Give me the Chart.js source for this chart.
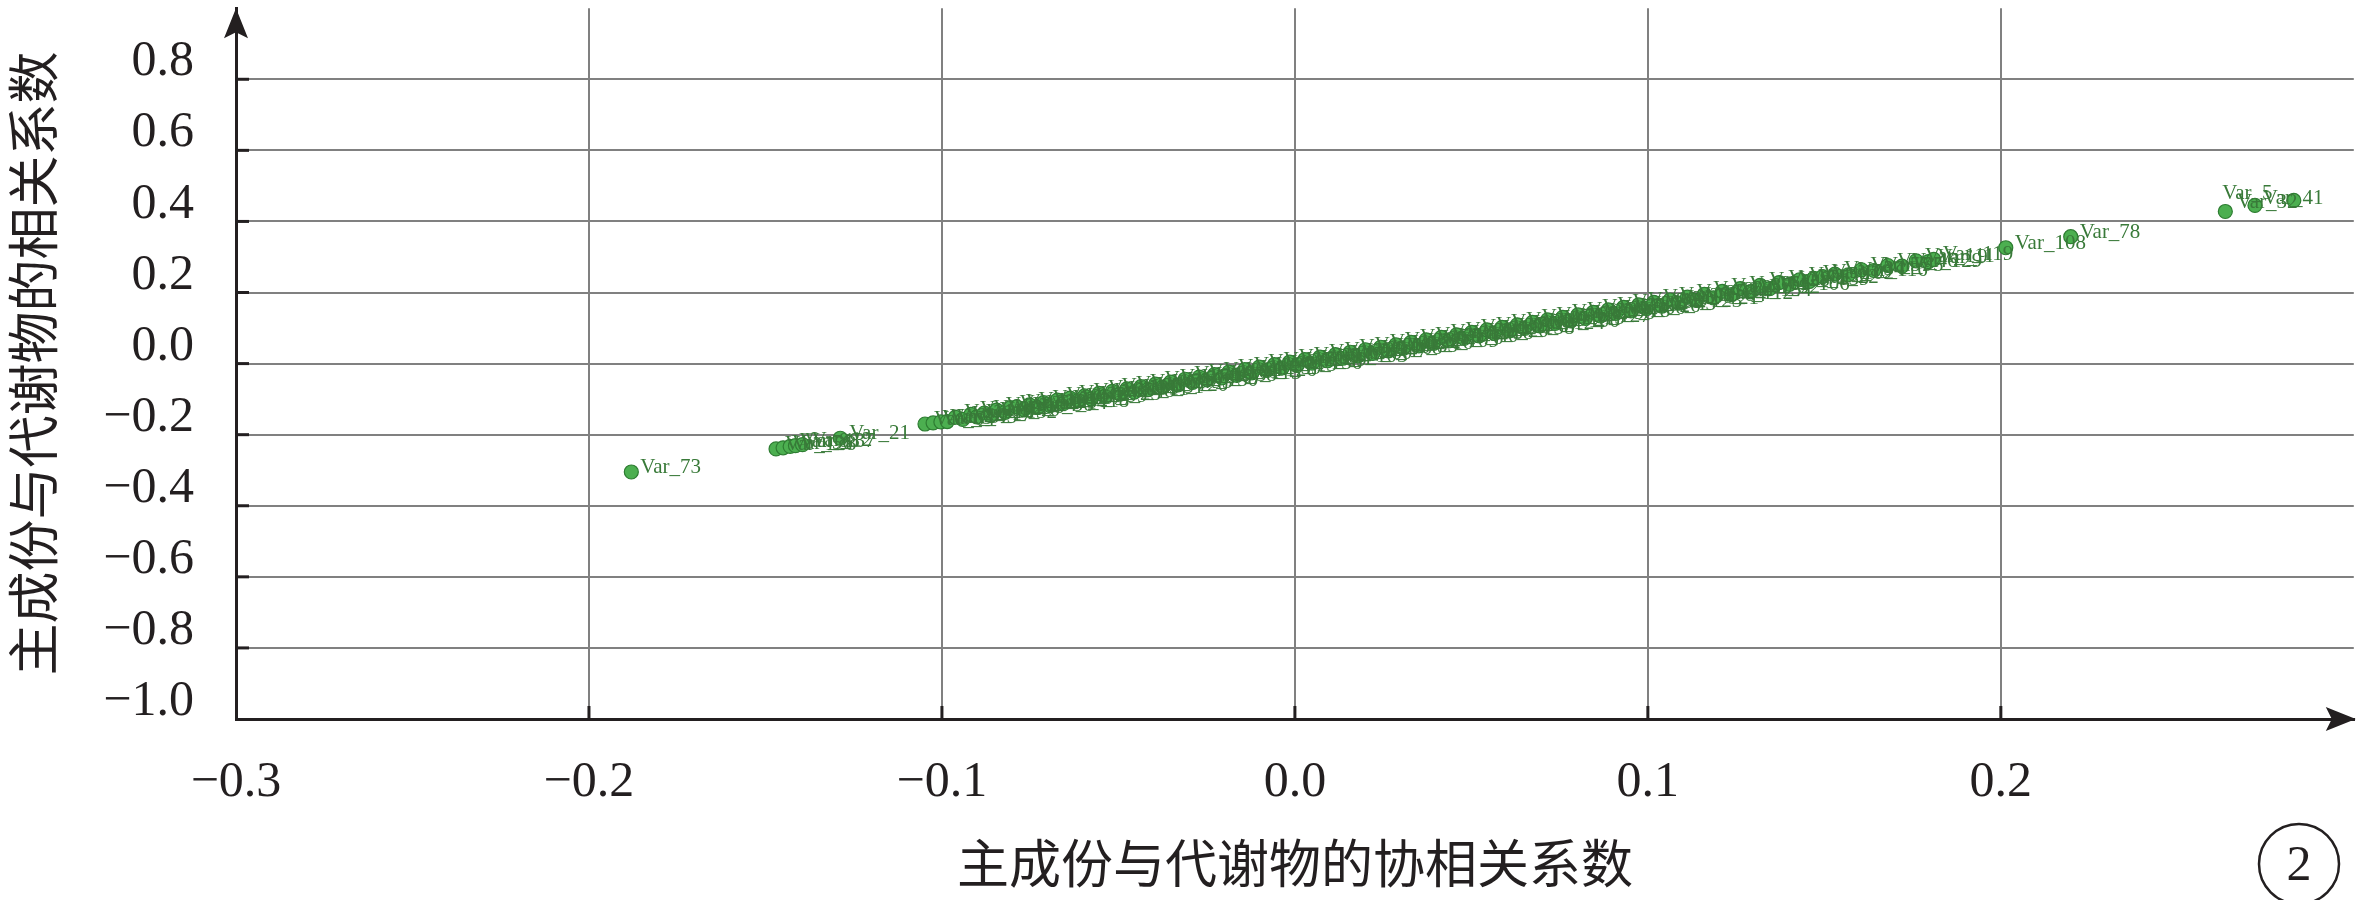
<!DOCTYPE html>
<html lang="zh">
<head>
<meta charset="utf-8">
<title>主成份与代谢物的协相关系数</title>
<script src="https://cdn.jsdelivr.net/npm/chart.js@4.4.1/dist/chart.umd.min.js"></script>
<style>
  html, body { margin: 0; padding: 0; background: #fff; }
  #wrap { position: relative; width: 2362px; height: 900px; }
</style>
</head>
<body>
<div id="wrap"><canvas id="chart"></canvas></div>
<script>
// Variable ids (labels are "Var_" + id)
const varIds = [
  73, 128, 56, 88, 137, 12, 21, 64, 3, 97,
  45, 110, 17, 83, 132, 29, 70, 104, 8, 51,
  125, 36, 91, 14, 60, 118, 42, 77, 2, 99,
  65, 23, 135, 48, 86, 11, 107, 31, 74, 120,
  6, 93, 54, 130, 19, 67, 101, 38, 81, 115,
  44, 126, 27, 59, 96, 13, 72, 136, 35, 89,
  117, 4, 62, 103, 25, 80, 140, 47, 10, 68,
  122, 33, 85, 16, 53, 109, 1, 76, 131, 40,
  94, 58, 113, 20, 71, 138, 30, 87, 49, 124,
  7, 100, 63, 15, 82, 127, 39, 98, 55, 18,
  114, 66, 133, 26, 90, 43, 105, 123, 69, 121,
  52, 84, 24, 112, 37, 134, 61, 92, 28, 106,
  75, 139, 50, 22, 102, 79, 34, 116, 57, 95,
  46, 129, 111, 9, 119, 108, 78, 5, 32, 41
];

// x: covariance between component and metabolite
const pcCov = [
  -0.188, -0.147, -0.145, -0.143, -0.1415, -0.1395, -0.1288, -0.1048, -0.1025, -0.1003,
  -0.0985, -0.0962, -0.0941, -0.0918, -0.0901, -0.0880, -0.0862, -0.0845, -0.0821, -0.0806,
  -0.0788, -0.0768, -0.0752, -0.0729, -0.0712, -0.0694, -0.0673, -0.0655, -0.0637, -0.0615,
  -0.0596, -0.0577, -0.0555, -0.0538, -0.0517, -0.0496, -0.0476, -0.0455, -0.0436, -0.0416,
  -0.0395, -0.0374, -0.0352, -0.0331, -0.0311, -0.0290, -0.0271, -0.0249, -0.0228, -0.0207,
  -0.0187, -0.0165, -0.0142, -0.0122, -0.0101, -0.0079, -0.0058, -0.0036, -0.0015, 0.0006,
  0.0028, 0.0049, 0.0071, 0.0092, 0.0115, 0.0135, 0.0157, 0.0179, 0.0200, 0.0221,
  0.0243, 0.0265, 0.0286, 0.0307, 0.0329, 0.0351, 0.0372, 0.0393, 0.0415, 0.0436,
  0.0458, 0.0479, 0.0501, 0.0522, 0.0544, 0.0565, 0.0587, 0.0608, 0.0630, 0.0651,
  0.0673, 0.0694, 0.0716, 0.0737, 0.0759, 0.0781, 0.0802, 0.0823, 0.0845, 0.0866,
  0.0888, 0.0909, 0.0931, 0.0952, 0.0974, 0.0996, 0.1017, 0.1040, 0.1063, 0.1088,
  0.1112, 0.1137, 0.1160, 0.1186, 0.1211, 0.1237, 0.1262, 0.1290, 0.1318, 0.1345,
  0.1372, 0.1401, 0.1430, 0.1457, 0.1470, 0.1495, 0.1530, 0.1568, 0.1605, 0.1640,
  0.1680, 0.1720, 0.1760, 0.1795, 0.1810, 0.2014, 0.2198, 0.2636, 0.2720, 0.2830
];

// y: correlation between component and metabolite
const pcCorr = [
  -0.305, -0.240, -0.237, -0.233, -0.231, -0.228, -0.210, -0.170, -0.167, -0.164,
  -0.163, -0.151, -0.157, -0.143, -0.150, -0.139, -0.146, -0.131, -0.137, -0.124,
  -0.122, -0.130, -0.116, -0.124, -0.110, -0.118, -0.103, -0.112, -0.097, -0.104,
  -0.091, -0.099, -0.084, -0.092, -0.078, -0.086, -0.071, -0.080, -0.065, -0.073,
  -0.058, -0.066, -0.052, -0.060, -0.044, -0.053, -0.038, -0.046, -0.031, -0.040,
  -0.024, -0.033, -0.017, -0.026, -0.010, -0.019, -0.003, -0.012, 0.004, -0.005,
  0.011, 0.001, 0.018, 0.008, 0.025, 0.015, 0.032, 0.022, 0.039, 0.029,
  0.046, 0.036, 0.053, 0.043, 0.060, 0.050, 0.067, 0.057, 0.074, 0.064,
  0.081, 0.071, 0.088, 0.078, 0.095, 0.085, 0.102, 0.092, 0.109, 0.099,
  0.116, 0.106, 0.123, 0.113, 0.130, 0.120, 0.137, 0.127, 0.144, 0.134,
  0.151, 0.141, 0.158, 0.148, 0.165, 0.155, 0.172, 0.162, 0.179, 0.170,
  0.187, 0.178, 0.195, 0.185, 0.203, 0.194, 0.211, 0.202, 0.220, 0.211,
  0.228, 0.223, 0.236, 0.231, 0.240, 0.245, 0.252, 0.250, 0.264, 0.262,
  0.276, 0.274, 0.289, 0.287, 0.293, 0.326, 0.357, 0.428, 0.445, 0.459
];

const X_TITLE = '主成份与代谢物的协相关系数';
const Y_TITLE = '主成份与代谢物的相关系数';
const PANEL_LABEL = '2';

const AXIS_COLOR = '#231f20';
const GRID_COLOR = '#808080';
const POINT_FILL = '#4caf50';
const POINT_EDGE = '#2e7d32';
const LABEL_COLOR = '#397a39';

// labels moved off the right edge, as in the original figure
const labelNudge = { 5: [-12, -13], 32: [-27, 2], 41: [-40, 3] };

const r1 = v => Math.round(v * 10) / 10;
const fmt = v => r1(v).toFixed(1).replace('-', '\u2212');

// Var_ labels next to each point
const pointLabels = {
    id: 'pointLabels',
    afterDatasetsDraw(chart) {
        const { ctx } = chart;
        const meta = chart.getDatasetMeta(0);
        ctx.save();
        ctx.font = '21px "Liberation Serif"';
        ctx.fillStyle = LABEL_COLOR;
        ctx.textAlign = 'left';
        ctx.textBaseline = 'alphabetic';
        meta.data.forEach((pt, i) => {
            const [dx, dy] = labelNudge[varIds[i]] || [0, 0];
            ctx.fillText('Var_' + varIds[i], pt.x + 9 + dx, pt.y + 1 + dy);
        });
        ctx.restore();
    }
};

// arrows, inward tick marks and the circled panel number
const axisDecor = {
    id: 'axisDecor',
    afterDraw(chart) {
        const { ctx, chartArea: a, scales: { x, y } } = chart;
        ctx.save();
        ctx.strokeStyle = AXIS_COLOR;
        ctx.fillStyle = AXIS_COLOR;
        ctx.lineWidth = 3;

        y.ticks.forEach(t => {
            const v = r1(t.value);
            if (v <= -1 || v >= 1) return;
            const py = y.getPixelForValue(t.value);
            ctx.beginPath();
            ctx.moveTo(a.left, py);
            ctx.lineTo(a.left + 13, py);
            ctx.stroke();
        });
        x.ticks.forEach(t => {
            const v = r1(t.value);
            if (v <= -0.3 || v >= 0.3) return;
            const px = x.getPixelForValue(t.value);
            ctx.beginPath();
            ctx.moveTo(px, a.bottom);
            ctx.lineTo(px, a.bottom - 13);
            ctx.stroke();
        });

        // y arrow
        ctx.beginPath();
        ctx.moveTo(a.left, a.top);
        ctx.lineTo(a.left + 12, a.top + 30);
        ctx.lineTo(a.left, a.top + 24);
        ctx.lineTo(a.left - 12, a.top + 30);
        ctx.closePath();
        ctx.fill();

        // x arrow
        ctx.beginPath();
        ctx.moveTo(a.right + 2, a.bottom);
        ctx.lineTo(a.right - 28, a.bottom - 12);
        ctx.lineTo(a.right - 22, a.bottom);
        ctx.lineTo(a.right - 28, a.bottom + 12);
        ctx.closePath();
        ctx.fill();

        // circled panel label
        ctx.lineWidth = 2.5;
        ctx.beginPath();
        ctx.arc(2299, 864, 40, 0, Math.PI * 2);
        ctx.stroke();
        ctx.font = '50px "Liberation Serif"';
        ctx.textAlign = 'center';
        ctx.textBaseline = 'middle';
        ctx.fillText(PANEL_LABEL, 2299, 867);
        ctx.restore();
    }
};

new Chart(document.getElementById('chart'), {
    type: 'scatter',
    data: {
        datasets: [{
            data: pcCov.map((v, i) => ({ x: v, y: pcCorr[i] })),
            pointRadius: 7,
            pointHoverRadius: 7,
            pointBackgroundColor: POINT_FILL,
            pointBorderColor: POINT_EDGE,
            pointBorderWidth: 1.2
        }]
    },
    options: {
        responsive: true,
        maintainAspectRatio: false,
        animation: false,
        events: [],
        layout: { padding: { top: 4, right: 3, bottom: 0, left: 0 } },
        plugins: {
            legend: { display: false },
            tooltip: { enabled: false }
        },
        scales: {
            x: {
                type: 'linear',
                min: -0.3,
                max: 0.3,
                afterFit: s => {
                    s.height = 181;
                    s.paddingLeft = 0;
                    s.paddingRight = 0;
                },
                border: { display: true, color: AXIS_COLOR, width: 3 },
                grid: { color: GRID_COLOR, lineWidth: 2, drawTicks: false },
                ticks: {
                    stepSize: 0.1,
                    padding: 34,
                    color: AXIS_COLOR,
                    font: { family: '"Liberation Serif"', size: 50 },
                    maxRotation: 0,
                    callback: v => (r1(v) >= 0.3 ? null : fmt(v))
                },
                title: {
                    display: true,
                    text: X_TITLE,
                    color: AXIS_COLOR,
                    font: { family: '"Noto Sans CJK SC"', size: 52 },
                    padding: { top: 0, bottom: 6 }
                }
            },
            y: {
                type: 'linear',
                min: -1,
                max: 1,
                afterFit: s => {
                    s.width = 236;
                    s.paddingTop = 0;
                    s.paddingBottom = 0;
                },
                border: { display: true, color: AXIS_COLOR, width: 3 },
                grid: { color: GRID_COLOR, lineWidth: 2, drawTicks: false },
                ticks: {
                    stepSize: 0.2,
                    includeBounds: false,
                    padding: 42,
                    labelOffset: -17,
                    color: AXIS_COLOR,
                    font: { family: '"Liberation Serif"', size: 50 },
                    callback: v => (r1(v) >= 1 ? null : fmt(v))
                },
                title: {
                    display: true,
                    text: Y_TITLE,
                    color: AXIS_COLOR,
                    font: { family: '"Noto Sans CJK SC"', size: 52 },
                    padding: { top: 2, bottom: 0 }
                }
            }
        }
    },
    plugins: [pointLabels, axisDecor]
});
</script>
</body>
</html>
